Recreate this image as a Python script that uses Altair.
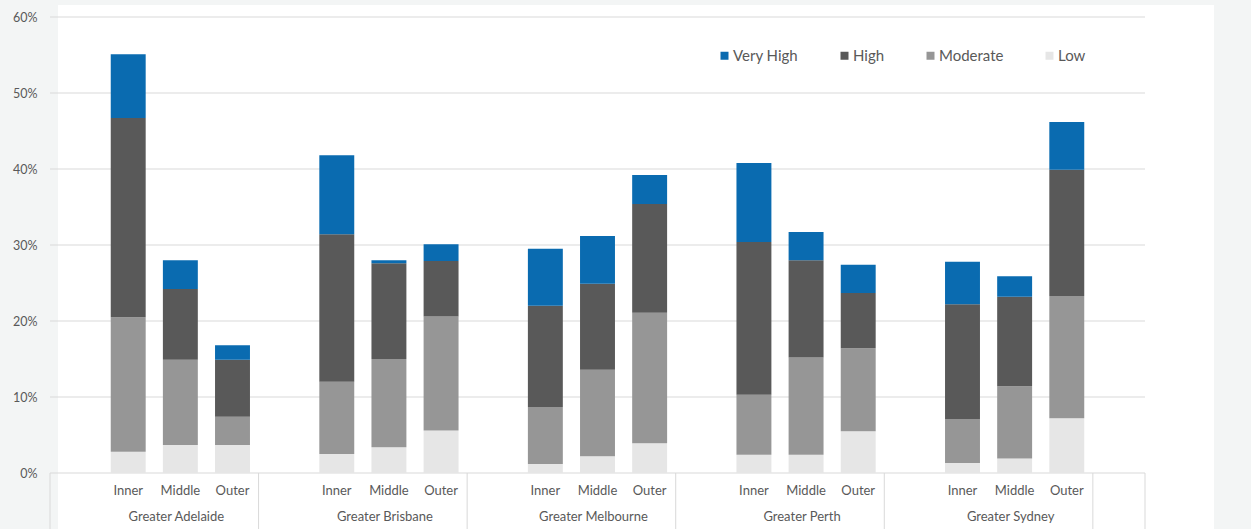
import altair as alt
import pandas as pd

cities = ["Greater Adelaide", "Greater Brisbane", "Greater Melbourne", "Greater Perth", "Greater Sydney"]
rings = ["Inner", "Middle", "Outer"]
levels = ["Very High", "High", "Moderate", "Low"]
colors = ["#0a6bb0", "#595959", "#969696", "#e6e6e6"]

# segment values (%), order: Adelaide I/M/O, Brisbane I/M/O, Melbourne, Perth, Sydney
low = [2.8, 3.7, 3.7, 2.5, 3.4, 5.6, 1.2, 2.2, 3.9, 2.4, 2.4, 5.5, 1.3, 1.9, 7.2]
moderate = [17.7, 11.2, 3.7, 9.5, 11.6, 15.0, 7.5, 11.4, 17.2, 7.9, 12.8, 10.9, 5.8, 9.5, 16.1]
high = [26.2, 9.3, 7.5, 19.4, 12.6, 7.3, 13.3, 11.3, 14.3, 20.1, 12.8, 7.3, 15.1, 11.8, 16.6]
very_high = [8.4, 3.8, 1.9, 10.4, 0.4, 2.2, 7.5, 6.3, 3.8, 10.4, 3.7, 3.7, 5.6, 2.7, 6.3]

y_ticks = [0, 10, 20, 30, 40, 50, 60]
slots_per_city = 4  # blank + Inner + Middle + Outer
n_slots = len(cities) * slots_per_city + 1

W, H = 1095, 456

rows = []
ring_rows = []
for ci, city in enumerate(cities):
    for ri, ring in enumerate(rings):
        k = ci * 3 + ri
        slot = ci * slots_per_city + ri + 1
        ring_rows.append({"ring": ring, "xc": slot + 0.5})
        base = 0.0
        for lvl, vals in [("Low", low), ("Moderate", moderate), ("High", high), ("Very High", very_high)]:
            v = vals[k]
            rows.append({"city": city, "ring": ring, "level": lvl,
                         "x0": slot + 0.165, "x1": slot + 0.835,
                         "y0": base, "y1": base + v})
            base += v
df = pd.DataFrame(rows)
ring_df = pd.DataFrame(ring_rows)
city_df = pd.DataFrame({"city": cities,
                        "xc": [ci * slots_per_city + 2.5 for ci in range(len(cities))]})
edges_df = pd.DataFrame({"edge": [ci * slots_per_city for ci in range(len(cities) + 1)] + [n_slots]})
grid_df = pd.DataFrame({"v": y_ticks})

xscale = alt.Scale(domain=[0, n_slots], nice=False, zero=False)
yscale = alt.Scale(domain=[0, 60], nice=False)
yaxis = alt.Axis(values=y_ticks, labelExpr="datum.value + '%'", grid=False, ticks=False,
                 domain=False, labelPadding=13, labelFont="Lato", labelFontSize=12.5,
                 labelColor="#595959", title=None, zindex=1)

bg = alt.Chart(alt.Data(values=[{}])).mark_rect(color="white", clip=False).encode(
    x=alt.value(8), x2=alt.value(1164), y=alt.value(-12), y2=alt.value(512))

grid = alt.Chart(grid_df).mark_rule(color="#d9d9d9", strokeWidth=1).encode(
    y=alt.Y("v:Q", scale=yscale, axis=yaxis), x=alt.value(0), x2=alt.value(W))

seps = alt.Chart(edges_df).mark_rule(color="#d9d9d9", strokeWidth=1, clip=False).encode(
    x=alt.X("edge:Q", scale=xscale, axis=None), y=alt.value(H), y2=alt.value(512))

bars = alt.Chart(df).mark_rect().encode(
    x=alt.X("x0:Q", scale=xscale, axis=None), x2="x1:Q",
    y=alt.Y("y0:Q", scale=yscale, axis=yaxis), y2="y1:Q",
    color=alt.Color("level:N", scale=alt.Scale(domain=levels, range=colors),
                    legend=alt.Legend(title=None, orient="none", legendX=667, legendY=31,
                                      direction="horizontal", symbolType="square",
                                      symbolSize=64, symbolStrokeWidth=0, labelFont="Lato",
                                      labelFontSize=15, labelColor="#595959",
                                      columnPadding=38, labelOffset=1)))

ring_text = alt.Chart(ring_df).mark_text(font="Lato", fontSize=13, color="#595959",
                                         baseline="middle", clip=False).encode(
    x=alt.X("xc:Q", scale=xscale, axis=None), y=alt.value(474), text="ring:N")

city_text = alt.Chart(city_df).mark_text(font="Lato", fontSize=13, color="#595959",
                                         baseline="middle", dx=-4, clip=False).encode(
    x=alt.X("xc:Q", scale=xscale, axis=None), y=alt.value(500), text="city:N")

chart = alt.layer(bg, grid, seps, bars, ring_text, city_text).properties(
    width=W, height=H,
    autosize=alt.AutoSizeParams(type="none"),
    padding={"left": 50, "top": 17, "right": 106, "bottom": 56},
    background="#f3f5f5",
).configure_view(stroke=None)

chart.save("out.html", embed_options={"renderer": "svg", "actions": False})
